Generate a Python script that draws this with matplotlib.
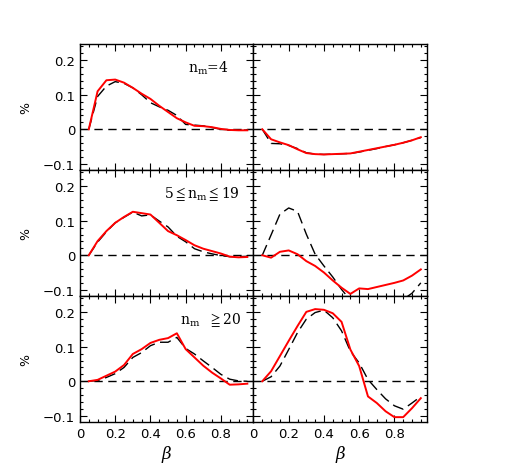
import numpy as np
import matplotlib
matplotlib.use("Agg")
import matplotlib.pyplot as plt
from matplotlib.ticker import MultipleLocator, FuncFormatter

# beta bins
beta = np.arange(1, 20) * 0.05

# n_m = 4
rouge_1g = [0, 0.110, 0.142, 0.144, 0.135, 0.120, 0.103, 0.088, 0.068, 0.050, 0.032, 0.020, 0.010, 0.009, 0.006, 0.001, -0.002, -0.003, -0.003]
noir_1g = [0, 0.095, 0.125, 0.138, 0.133, 0.120, 0.100, 0.077, 0.065, 0.055, 0.040, 0.014, 0.012, 0.010, 0.005, 0.000, -0.003, -0.003, -0.002]
rouge_1d = [0, -0.029, -0.038, -0.046, -0.058, -0.069, -0.072, -0.073, -0.072, -0.071, -0.070, -0.065, -0.060, -0.055, -0.050, -0.045, -0.039, -0.032, -0.023]
noir_1d = [0, -0.041, -0.042, -0.047, -0.056, -0.068, -0.072, -0.073, -0.072, -0.071, -0.070, -0.066, -0.061, -0.056, -0.050, -0.045, -0.039, -0.032, -0.024]

# 5 <= n_m <= 19
rouge_2g = [0, 0.041, 0.070, 0.094, 0.111, 0.126, 0.122, 0.118, 0.094, 0.070, 0.058, 0.044, 0.029, 0.019, 0.012, 0.005, -0.004, -0.006, -0.005]
noir_2g = [0, 0.038, 0.068, 0.094, 0.110, 0.125, 0.114, 0.117, 0.099, 0.082, 0.055, 0.039, 0.019, 0.010, 0.004, -0.001, -0.004, -0.004, -0.003]
rouge_2d = [0, -0.007, 0.010, 0.014, 0.003, -0.017, -0.031, -0.050, -0.073, -0.094, -0.112, -0.096, -0.098, -0.092, -0.086, -0.080, -0.073, -0.059, -0.041]
noir_2d = [0, 0.059, 0.119, 0.137, 0.127, 0.061, 0.003, -0.031, -0.063, -0.099, -0.130, -0.150, -0.160, -0.170, -0.160, -0.150, -0.128, -0.110, -0.080]

# n_m >= 20
rouge_3g = [0, 0.004, 0.016, 0.028, 0.047, 0.079, 0.093, 0.111, 0.120, 0.125, 0.139, 0.093, 0.069, 0.045, 0.025, 0.008, -0.010, -0.009, -0.007]
noir_3g = [0, 0.002, 0.011, 0.022, 0.040, 0.069, 0.083, 0.103, 0.113, 0.113, 0.127, 0.095, 0.079, 0.059, 0.040, 0.020, 0.006, 0.001, 0.000]
rouge_3d = [0, 0.029, 0.073, 0.117, 0.160, 0.201, 0.209, 0.207, 0.197, 0.172, 0.092, 0.044, -0.044, -0.063, -0.087, -0.104, -0.104, -0.078, -0.049]
noir_3d = [0, 0.013, 0.044, 0.092, 0.141, 0.180, 0.199, 0.206, 0.184, 0.146, 0.087, 0.053, 0.005, -0.024, -0.051, -0.071, -0.081, -0.063, -0.044]

etiquettes = ["${\\rm n_m}$=4", "$5\\leqq{\\rm n_m}\\leqq19$", "${\\rm n_m}\\ \\ \\geqq20$"]
pos_x = [0.73, 0.69, 0.74]

plt.rcParams["font.family"] = ["DejaVu Sans"]
plt.rcParams["mathtext.fontset"] = "dejavuserif"

fig, axes = plt.subplots(3, 2, figsize=(5.18, 4.64), dpi=100, sharex=True, sharey=True)
fig.subplots_adjust(left=0.1544, right=0.8243, top=0.903, bottom=0.0884, hspace=0, wspace=0)

donnees = [(rouge_1g, noir_1g, rouge_1d, noir_1d),
           (rouge_2g, noir_2g, rouge_2d, noir_2d),
           (rouge_3g, noir_3g, rouge_3d, noir_3d)]

def fmt(v, pos):
    if abs(v) < 1e-9:
        return "0"
    return ("%.1f" % v).replace("-", "\u2212")

for i in range(3):
    rg, ng, rd, nd = donnees[i]
    for j, (r, n) in enumerate([(rg, ng), (rd, nd)]):
        ax = axes[i, j]
        ax.axhline(0, color="k", lw=1.0, ls=(0, (6, 4)))
        ax.plot(beta, n, color="k", lw=1.0, ls=(0, (8, 4)))
        ax.plot(beta, r, color="red", lw=1.4)
        ax.set_xlim(0, 0.985)
        ax.set_ylim(-0.118, 0.247)
        ax.xaxis.set_major_locator(MultipleLocator(0.2))
        ax.xaxis.set_minor_locator(MultipleLocator(0.05))
        ax.yaxis.set_major_locator(MultipleLocator(0.1))
        ax.yaxis.set_minor_locator(MultipleLocator(0.02))
        ax.xaxis.set_major_formatter(FuncFormatter(fmt))
        ax.yaxis.set_major_formatter(FuncFormatter(fmt))
        ax.tick_params(which="both", direction="in", top=True, right=True, labelsize=9.5)
        ax.tick_params(which="major", length=5, width=0.8)
        ax.tick_params(which="minor", length=2.5, width=0.8)
        for s in ax.spines.values():
            s.set_linewidth(1.0)
    axes[i, 0].set_ylabel("%", rotation=90, fontsize=9, labelpad=8)
    axes[i, 0].text(pos_x[i], 0.18, etiquettes[i], ha="center", va="center", fontsize=10,
                    family="DejaVu Serif")

for j in range(2):
    axes[2, j].set_xlabel("$\\beta$", fontsize=12, labelpad=2)

fig.savefig("out.png", dpi=100)
